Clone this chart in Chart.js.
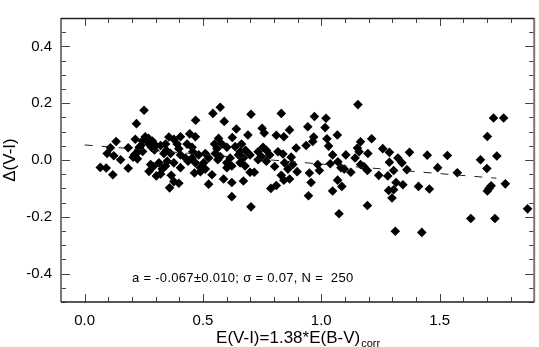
<!DOCTYPE html>
<html>
<head>
<meta charset="utf-8">
<script src="https://cdn.jsdelivr.net/npm/chart.js@4.4.0/dist/chart.umd.min.js"></script>
<style>
  html, body { margin: 0; padding: 0; background: #fff; }
  #wrap { width: 539px; height: 347px; }
</style>
</head>
<body>
<div id="wrap"><canvas id="chart1"></canvas></div>
<script>
// E(V-I) colour excess of each star
var xVals = [
  0.251, 0.219, 0.133, 0.109, 0.095, 0.123, 0.152, 0.184, 0.066, 0.091,
  0.119, 0.184, 0.214, 0.210, 0.219, 0.205, 0.223, 0.231, 0.256, 0.270,
  0.244, 0.286, 0.300, 0.238, 0.272, 0.279, 0.290, 0.272, 0.303, 0.228,
  0.262, 0.282, 0.295, 0.245,
  0.573, 0.542, 0.590, 0.469, 0.641, 0.690, 0.624, 0.566, 0.444, 0.468,
  0.405, 0.356, 0.377, 0.391, 0.342, 0.321, 0.433, 0.454, 0.398, 0.345,
  0.457, 0.549, 0.580, 0.601, 0.559, 0.636, 0.663, 0.657, 0.680, 0.335,
  0.363, 0.405, 0.426, 0.454, 0.482, 0.510, 0.524, 0.552, 0.573, 0.615,
  0.650, 0.671, 0.314, 0.349, 0.377, 0.437, 0.468, 0.503, 0.563, 0.601,
  0.657, 0.342, 0.405, 0.489, 0.510, 0.601, 0.622, 0.678, 0.321, 0.328,
  0.464, 0.489, 0.538, 0.587, 0.366, 0.377, 0.398, 0.359, 0.524, 0.622,
  0.671, 0.622,
  0.703, 0.831, 0.971, 1.020, 0.943, 1.016, 0.866, 0.750, 0.759, 0.810,
  0.842, 0.968, 1.024, 0.964, 0.936, 1.031, 0.894, 0.754, 0.733, 0.768,
  0.699, 0.747, 0.782, 0.817, 0.838, 0.873, 1.048, 0.733, 0.768, 0.845,
  0.880, 0.985, 1.038, 0.717, 0.803, 0.859, 0.898, 0.992, 0.950, 0.831,
  0.866, 0.842, 0.699, 0.957, 0.810, 0.787, 1.048, 0.946, 0.703, 1.075,
  1.155, 1.068, 1.213, 1.166, 1.153, 1.160, 1.104, 1.197, 1.260, 1.288,
  1.373, 1.448, 1.143, 1.070, 1.083, 1.097, 1.125, 1.166, 1.180, 1.195,
  1.288, 1.324, 1.341, 1.306, 1.362, 1.243, 1.281, 1.316, 1.345, 1.411,
  1.285, 1.306, 1.299, 1.087, 1.069, 1.195, 1.313, 1.425,
  1.728, 1.771, 1.702, 1.533, 1.742, 1.673, 1.492, 1.700, 1.575, 1.457,
  1.718, 1.709, 1.702, 1.778, 1.872, 1.632, 1.734
];
// Delta(V-I) residual of each star
var yVals = [
  0.175, 0.128, 0.065, 0.043, 0.023, 0.015, 0.001, 0.043, -0.026, -0.028,
  -0.052, -0.029, 0.073, 0.018, 0.023, 0.010, 0.004, 0.045, 0.082, 0.076,
  0.067, 0.067, 0.051, 0.051, 0.056, -0.016, -0.023, -0.040, -0.056, 0.035,
  0.070, 0.045, 0.035, 0.030,
  0.186, 0.164, 0.136, 0.140, 0.109, 0.088, 0.079, 0.076, 0.092, 0.082,
  0.082, 0.081, 0.073, 0.056, 0.056, 0.051, 0.056, 0.045, 0.040, 0.034,
  0.029, 0.056, 0.056, 0.045, 0.040, 0.047, 0.056, 0.029, 0.034, 0.023,
  0.023, 0.018, 0.007, 0.007, 0.018, 0.023, 0.007, 0.023, 0.012, 0.007,
  0.018, 0.007, -0.010, -0.004, -0.010, -0.004, -0.010, -0.010, 0.001, -0.010,
  -0.010, -0.021, -0.027, -0.027, -0.032, -0.027, -0.021, -0.021, -0.049, -0.032,
  -0.046, -0.041, -0.052, -0.067, -0.054, -0.076, -0.082, -0.098, -0.085, -0.079,
  -0.074, -0.129,
  0.161, 0.164, 0.153, 0.147, 0.117, 0.114, 0.106, 0.112, 0.095, 0.087,
  0.082, 0.081, 0.075, 0.065, 0.051, 0.049, 0.042, 0.045, 0.029, 0.034,
  0.018, 0.012, 0.018, 0.029, 0.021, 0.010, 0.018, 0.001, -0.004, -0.010,
  -0.016, -0.016, -0.013, -0.043, -0.023, -0.032, -0.041, -0.037, -0.046, -0.054,
  -0.067, -0.071, -0.043, -0.079, -0.090, -0.100, -0.109, -0.126, -0.165, -0.189,
  0.195, 0.088, 0.075, 0.064, 0.042, 0.029, 0.018, 0.023, 0.040, 0.027,
  0.027, 0.017, 0.007, -0.006, -0.027, -0.032, -0.043, -0.016, -0.023, -0.037,
  -0.008, 0.007, -0.010, -0.037, -0.034, -0.054, -0.056, -0.079, -0.087, -0.093,
  -0.107, -0.105, -0.134, -0.093, -0.071, -0.160, -0.251, -0.255,
  0.148, 0.148, 0.083, 0.016, 0.014, 0.001, -0.027, -0.030, -0.045, -0.102,
  -0.091, -0.100, -0.109, -0.084, -0.172, -0.206, -0.206
];

// fitted line, a = -0.067
var fitX = [0.0, 1.74];
var fitY = [0.053, -0.064];

var xTicks = [0.0, 0.5, 1.0, 1.5];
var yTicks = [-0.4, -0.2, 0.0, 0.2, 0.4];
var xMinorStep = 0.1;
var yMinorStep = 0.05;

var statsText = 'a = -0.067\u00b10.010; \u03c3 = 0.07, N =  250';
var xTitle = 'E(V-I)=1.38*E(B-V)';
var xTitleSub = 'corr';
var yTitle = '\u0394(V-I)';

var points = [];
for (var i = 0; i < xVals.length; i++) {
    points.push({x: xVals[i], y: yVals[i]});
}
var fitPoints = [];
for (var j = 0; j < fitX.length; j++) {
    fitPoints.push({x: fitX[j], y: fitY[j]});
}

var fontName = '"Liberation Sans", Arial, Helvetica, sans-serif';

// box, inward ticks on all sides, and the texts IDL puts round the plot
var framePlugin = {
    id: 'frame',
    afterDatasetsDraw: function(chart) {
        var ctx = chart.ctx;
        var a = chart.chartArea;
        var xs = chart.scales.x;
        var ys = chart.scales.y;
        ctx.save();

        ctx.strokeStyle = '#444';
        ctx.lineWidth = 1;
        var v, px, len, k;
        for (k = Math.ceil(xs.min / xMinorStep - 1e-6); k * xMinorStep <= xs.max + 1e-6; k++) {
            v = k * xMinorStep;
            px = Math.round(xs.getPixelForValue(v)) + 0.5;
            len = Math.abs(v / 0.5 - Math.round(v / 0.5)) < 1e-6 ? 8 : 5;
            ctx.beginPath();
            ctx.moveTo(px, a.bottom); ctx.lineTo(px, a.bottom - len);
            ctx.moveTo(px, a.top); ctx.lineTo(px, a.top + len);
            ctx.stroke();
        }
        for (k = Math.ceil(ys.min / yMinorStep - 1e-6); k * yMinorStep <= ys.max + 1e-6; k++) {
            v = k * yMinorStep;
            px = Math.round(ys.getPixelForValue(v)) + 0.5;
            len = Math.abs(v / 0.2 - Math.round(v / 0.2)) < 1e-6 ? 9 : 5;
            ctx.beginPath();
            ctx.moveTo(a.left, px); ctx.lineTo(a.left + len, px);
            ctx.moveTo(a.right, px); ctx.lineTo(a.right - len, px);
            ctx.stroke();
        }

        // frame
        ctx.lineWidth = 2;
        ctx.strokeStyle = '#777';
        ctx.beginPath();
        ctx.moveTo(a.left, a.top); ctx.lineTo(a.left, a.bottom);
        ctx.moveTo(a.right, a.top); ctx.lineTo(a.right, a.bottom);
        ctx.stroke();
        ctx.strokeStyle = '#222';
        ctx.lineWidth = 1.5;
        ctx.beginPath();
        ctx.moveTo(a.left, a.top + 0.5); ctx.lineTo(a.right, a.top + 0.5);
        ctx.moveTo(a.left, a.bottom); ctx.lineTo(a.right, a.bottom);
        ctx.stroke();

        // fit statistics
        ctx.fillStyle = '#000';
        ctx.font = '13px ' + fontName;
        ctx.textAlign = 'left';
        ctx.textBaseline = 'alphabetic';
        ctx.letterSpacing = '0.3px';
        ctx.fillText(statsText, xs.getPixelForValue(0.2), ys.getPixelForValue(-0.43));
        ctx.letterSpacing = '0px';

        // x title with subscript
        ctx.font = '17px ' + fontName;
        var w1 = ctx.measureText(xTitle).width;
        ctx.font = '11px ' + fontName;
        var w2 = ctx.measureText(xTitleSub).width;
        var x0 = (a.left + a.right) / 2 - (w1 + w2) / 2;
        ctx.font = '17px ' + fontName;
        ctx.fillText(xTitle, x0, 343);
        ctx.font = '11px ' + fontName;
        ctx.fillText(xTitleSub, x0 + w1 + 1, 347);

        // y title
        ctx.translate(15, 160);
        ctx.rotate(-Math.PI / 2);
        ctx.font = '17px ' + fontName;
        ctx.textAlign = 'center';
        ctx.fillText(yTitle, 0, 0);

        ctx.restore();
    }
};

var ctx = document.getElementById('chart1').getContext('2d');
var myChart = new Chart(ctx, {
    type: 'scatter',
    data: {
        datasets: [{
            type: 'line',
            data: fitPoints,
            borderColor: '#222',
            borderWidth: 1,
            borderDash: [8, 9],
            pointRadius: 0,
            fill: false,
            order: 0
        }, {
            data: points,
            pointStyle: 'rectRot',
            pointRadius: 4.8,
            backgroundColor: '#000',
            borderWidth: 0,
            order: 1
        }]
    },
    options: {
        responsive: true,
        maintainAspectRatio: false,
        animation: false,
        events: [],
        layout: {padding: {top: 1, right: 2, left: 0, bottom: 0}},
        plugins: {
            legend: {display: false},
            tooltip: {enabled: false}
        },
        scales: {
            x: {
                type: 'linear',
                min: -0.1,
                max: 1.9,
                grid: {display: false, drawTicks: false},
                border: {display: false},
                afterBuildTicks: function(scale) {
                    scale.ticks = xTicks.map(function(v) { return {value: v}; });
                },
                afterFit: function(scale) { scale.height = 45; },
                ticks: {
                    padding: 10,
                    color: '#000',
                    font: {family: fontName, size: 15},
                    callback: function(v) { return Number(v).toFixed(1); }
                }
            },
            y: {
                type: 'linear',
                min: -0.5,
                max: 0.5,
                grid: {display: false, drawTicks: false},
                border: {display: false},
                afterBuildTicks: function(scale) {
                    scale.ticks = yTicks.map(function(v) { return {value: v}; });
                },
                afterFit: function(scale) { scale.width = 61; },
                ticks: {
                    padding: 9,
                    color: '#000',
                    font: {family: fontName, size: 15},
                    callback: function(v) { return Number(v).toFixed(1); }
                }
            }
        }
    },
    plugins: [framePlugin]
});
</script>
</body>
</html>
